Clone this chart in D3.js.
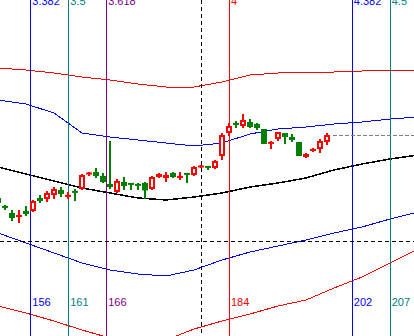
<!DOCTYPE html>
<html>
<head>
<meta charset="utf-8">
<script src="https://cdn.jsdelivr.net/npm/d3@7"></script>
<style>
  body { margin: 0; background: #fff; }
  svg { display: block; background: #fff; }
  .fib-label { font-family: "Liberation Sans", Arial, sans-serif; font-size: 11px; }
  .band { shape-rendering: crispEdges; }
</style>
</head>
<body>
<svg id="chart"></svg>
<script>
// Candles: bar number and open / high / low / close (price points)
const bars   = [151,152,153,154,155,156,157,158,159,160,161,162,163,164,165,166,167,168,169,170,171,172,173,174,175,
                176,177,178,179,180,181,182,183,184,185,186,187,188,189,190,191,192,193,194,195,196,197,198];
const opens  = [138,129.2,123,119,125,125,138,137,141,146,140,144.2,147,161.5,164,160,152,144,154,152.2,151.2,153,147,159,158,
                163,159,162.2,161,169,169.2,168,180,203,212.2,210,214,212,207,193,197,203,199,194,179,185,187,194];
const highs  = [140,131,126,126,130,136,141,145,149,149,144,147,162,164,168,163,195,157,159,152.2,153,154,160,163,164,
                164,164,162.2,170,171,169.2,176,203,213,215,222,217,213,207,195,204,203,202,194,183,188,197,203];
const lows   = [131,126,115,113,120,124,133,134,137,139,137,135,146,160,158,153,147,143,146,146,146,137,146,158,154,
                158,156,153,160,168,166,167,176,200,208,208,208,206,192,187,195,192,194,180,178,184,183,191];
const closes = [133,129,118,121,122,135,135,143,147,142,140.2,144,161,163.5,160,154,149,155,150,152,151,145.5,159,162,161,
                159,159.2,162,169,170,169,175,201,210,212,216,209,208,192,193.2,204,199,196,180,182,187,195,201];

// Envelope lines, sampled every 4 bars
const bandBars  = [151,155,159,163,167,171,175,179,183,187,191,195,199,203,207,211];
const redUpper  = [268,266,263,259,256,252,249,249,254,261,263,264,264,265,266,266];
const blueUpper = [236,232,223,203,199,196,193,190,193,202,207,209,212,214,217,219];
const midLine   = [169,162,155,148,143,138,136,139,143,149,153,158,166,172,177,181];
const blueLower = [103,93,83,73,66,62,60,66,76,84,90,96,103,109,117,124];
const redLower  = [30,23,15,6,-2,-7,-4,7,15,22,30,36,48,59,73,87];

// Fibonacci time zones
const fibRatios = [3.382, 3.5, 3.618, 4, 4.382, 4.5];
const fibBars   = ["156", "161", "166", "184", "202", "207"];
const fibColors = ["#0000ff", "#008080", "#800080", "#ff0000", "#0000ff", "#008080"];
const fibAnchor = 184;      // bar at ratio 4
const fibCycle  = 45.93;    // bars per unit ratio

// Crosshair
const crossBar = 180;
const crossPrice = 95;

const width = 414, height = 336;

const svg = d3.select("#chart")
    .attr("width", width)
    .attr("height", height);

// Scales: 7px per bar, bar 184 at x=229
const x = d3.scaleLinear().domain([184, 185]).range([229, 236]);
const y = d3.scaleLinear().domain([0, 336]).range([336, 0]);

const crisp = v => Math.round(v) + 0.5;

// Envelope lines
const line = d3.line()
    .x((d, i) => x(bandBars[i]))
    .y(d => y(d));

[[redUpper, "#ff0000"], [blueUpper, "#0000ff"], [midLine, "#000000"],
 [blueLower, "#0000ff"], [redLower, "#ff0000"]].forEach(([vals, col]) => {
    svg.append("path")
        .datum(vals)
        .attr("class", "band")
        .attr("fill", "none")
        .attr("stroke", col)
        .attr("stroke-width", col === "#000000" ? 1.5 : 1)
        .attr("d", line);
});

// Fib vertical lines + labels
const fibX = fibRatios.map(r => x(fibAnchor + (r - 4) * fibCycle));

svg.selectAll(".fib-line")
    .data(fibRatios)
    .join("line")
    .attr("class", "fib-line")
    .attr("x1", (d, i) => crisp(fibX[i]))
    .attr("x2", (d, i) => crisp(fibX[i]))
    .attr("y1", 0)
    .attr("y2", height)
    .attr("stroke", (d, i) => fibColors[i])
    .attr("stroke-width", 1);

svg.selectAll(".fib-top")
    .data(fibRatios)
    .join("text")
    .attr("class", "fib-label fib-top")
    .attr("x", (d, i) => fibX[i] + 2)
    .attr("y", 5)
    .attr("fill", (d, i) => fibColors[i])
    .text(d => d);

svg.selectAll(".fib-bottom")
    .data(fibBars)
    .join("text")
    .attr("class", "fib-label fib-bottom")
    .attr("x", (d, i) => fibX[i] + 2)
    .attr("y", 306)
    .attr("fill", (d, i) => fibColors[i])
    .text(d => d);

// Crosshair (dashed)
svg.append("line")
    .attr("x1", crisp(x(crossBar))).attr("x2", crisp(x(crossBar)))
    .attr("y1", 0).attr("y2", height)
    .attr("stroke", "#000").attr("stroke-dasharray", "4,3");

svg.append("line")
    .attr("x1", 0).attr("x2", width)
    .attr("y1", crisp(y(crossPrice))).attr("y2", crisp(y(crossPrice)))
    .attr("stroke", "#000").attr("stroke-dasharray", "4,3");

// Last close line
const last = bars.length - 1;
svg.append("line")
    .attr("x1", x(bars[last]) + 6).attr("x2", width)
    .attr("y1", crisp(y(closes[last]))).attr("y2", crisp(y(closes[last])))
    .attr("stroke", "#808080").attr("stroke-dasharray", "4,2");

// Candles
const candles = bars.map((b, i) => ({
    bar: b, o: opens[i], h: highs[i], l: lows[i], c: closes[i],
    up: closes[i] > opens[i]
}));

const g = svg.selectAll(".candle")
    .data(candles)
    .join("g")
    .attr("class", "candle");

g.append("line")
    .attr("x1", d => x(d.bar)).attr("x2", d => x(d.bar))
    .attr("y1", d => y(d.h)).attr("y2", d => y(d.l))
    .attr("stroke", d => d.up ? "#ff0000" : "#008000")
    .attr("stroke-width", 2);

g.each(function(d) {
    const sel = d3.select(this);
    const top = y(Math.max(d.o, d.c));
    const bot = y(Math.min(d.o, d.c));
    const h = bot - top;
    const col = d.up ? "#ff0000" : "#008000";
    if (h < 4 || !d.up) {
        // small body or down bar: solid
        const hh = Math.max(h, 2);
        sel.append("rect")
            .attr("x", x(d.bar) - 3)
            .attr("y", (top + bot) / 2 - hh / 2)
            .attr("width", 6)
            .attr("height", hh)
            .attr("fill", col);
    } else {
        sel.append("rect")
            .attr("x", x(d.bar) - 2)
            .attr("y", top + 1)
            .attr("width", 4)
            .attr("height", h - 2)
            .attr("fill", "#fff")
            .attr("stroke", col)
            .attr("stroke-width", 2);
    }
});
</script>
</body>
</html>
